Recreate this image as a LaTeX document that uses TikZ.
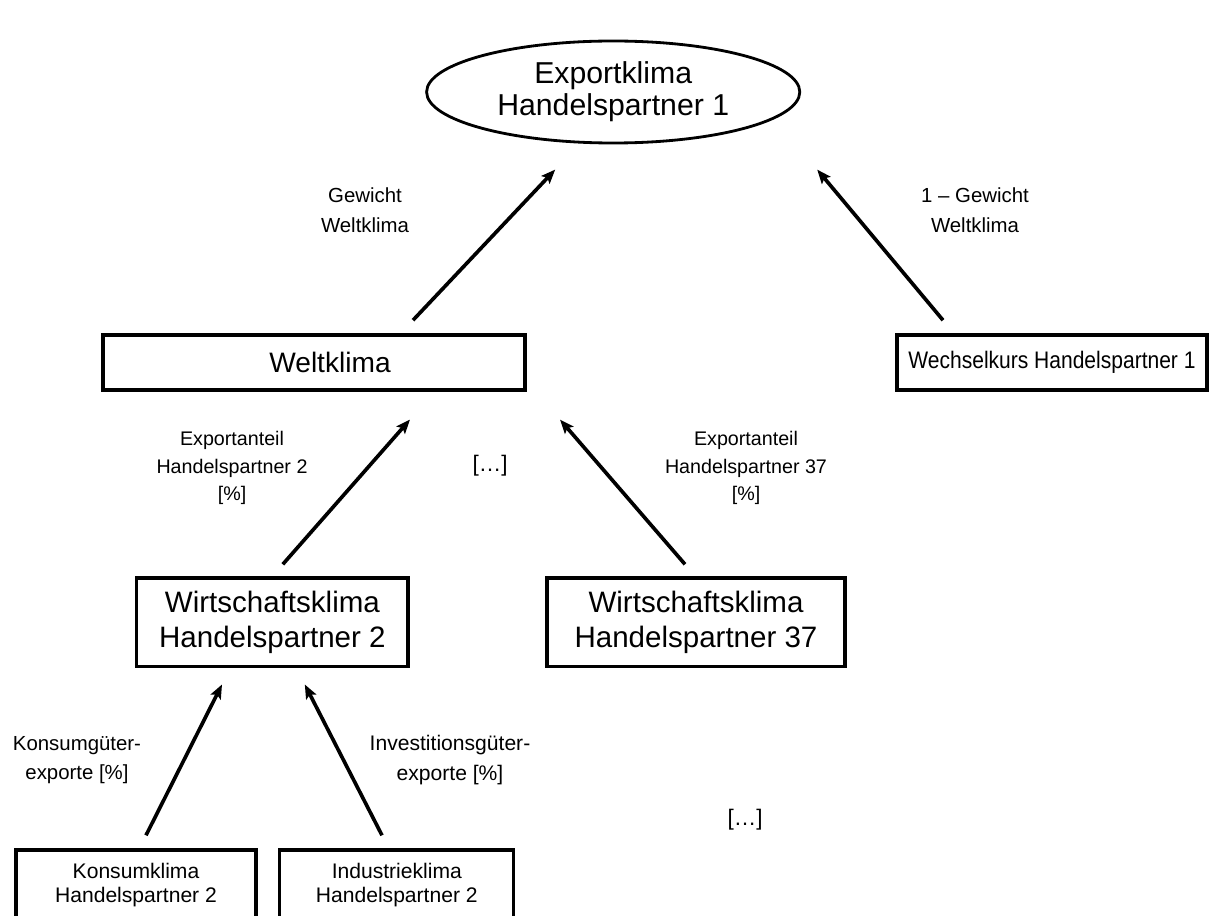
\documentclass[tikz,border=0pt]{standalone}
\usepackage{fontspec}
\setmainfont{Liberation Sans}
\newfontfamily\condfont[FakeStretch=0.88]{Liberation Sans}
\usetikzlibrary{arrows.meta, calc, positioning, shapes.geometric}

\begin{document}
\begin{tikzpicture}[
  >=Stealth,
  box/.style={draw, line width=2.4pt, rectangle, align=center, inner sep=0pt},
  oval/.style={draw, line width=2pt, ellipse, align=center, inner sep=0pt},
  lbl/.style={align=center, font=\fontsize{14.5}{21}\selectfont},
  arrowW/.style={line width=2.6pt, arrows={-Stealth[length=10pt, width=8pt, inset=2pt]}}
]
\useasboundingbox (0,0) rectangle (30.325,-22.9);

% Top: export climate
\node[oval, minimum width=9.33cm, minimum height=2.55cm, font=\fontsize{21.5}{23}\selectfont]
  (export) at (15.33,-2.3) {Exportklima\\Handelspartner 1};

% Second level
\node[box, minimum width=10.55cm, minimum height=1.375cm, font=\fontsize{20}{24}\selectfont]
  (welt) at (7.85,-9.06) {\hspace*{0.8cm}Weltklima};
\node[box, minimum width=7.75cm, minimum height=1.375cm, font=\condfont\fontsize{17}{20}\selectfont]
  (wechsel) at (26.3,-9.06) {Wechselkurs Handelspartner 1};

% Third level: trading partners
\node[box, minimum width=6.78cm, minimum height=2.22cm, font=\fontsize{21}{25}\selectfont]
  (wirt2) at (6.81,-15.56) {Wirtschaftsklima\\Handelspartner 2};
\node[box, minimum width=7.45cm, minimum height=2.22cm, font=\fontsize{21}{25}\selectfont]
  (wirt37) at (17.4,-15.56) {Wirtschaftsklima\\Handelspartner 37};

% Bottom level (cut off at the lower edge)
\node[box, minimum width=6.0cm, minimum height=1.75cm, font=\fontsize{15}{17}\selectfont]
  (konsum) at (3.4,-22.125) {Konsumklima\\Handelspartner 2};
\node[box, minimum width=5.85cm, minimum height=1.75cm, font=\fontsize{15}{17}\selectfont]
  (industrie) at (9.92,-22.125) {Industrieklima\\Handelspartner 2};

% Arrows upwards
\draw[arrowW] ([xshift=2.475cm, yshift=0.325cm]welt.north) -- ([xshift=-1.45cm, yshift=-0.63cm]export.south);
\draw[arrowW] ([xshift=-2.725cm, yshift=0.325cm]wechsel.north) -- ([xshift=5.1cm, yshift=-0.63cm]export.south);
\draw[arrowW] ([xshift=0.26cm, yshift=0.3cm]wirt2.north) -- ([xshift=2.4cm, yshift=-0.7cm]welt.south);
\draw[arrowW] ([xshift=-0.275cm, yshift=0.3cm]wirt37.north) -- ([xshift=6.15cm, yshift=-0.7cm]welt.south);
\draw[arrowW] ([xshift=0.25cm, yshift=0.325cm]konsum.north) -- ([xshift=-1.26cm, yshift=-0.4cm]wirt2.south);
\draw[arrowW] ([xshift=-0.37cm, yshift=0.325cm]industrie.north) -- ([xshift=0.81cm, yshift=-0.4cm]wirt2.south);

% Weights
\node[lbl] (wGewicht) at (9.125,-5.25) {Gewicht\\Weltklima};
\node[lbl] (wRest) at (24.375,-5.25) {1 – Gewicht\\Weltklima};
\node[lbl, font=\fontsize{14}{19.5}\selectfont] (wAnteil2) at (5.8,-11.7) {Exportanteil\\Handelspartner 2\\{[\%]}};
\node[lbl, font=\fontsize{16}{21}\selectfont] (dotsA) at (12.25,-11.65) {[…]};
\node[lbl, font=\fontsize{14}{19.5}\selectfont] (wAnteil37) at (18.65,-11.7) {Exportanteil\\Handelspartner 37\\{[\%]}};
\node[lbl] (wKonsum) at (1.925,-19.0) {Konsumgüter-\\exporte [\%]};
\node[lbl, font=\fontsize{15}{21}\selectfont] (wInvest) at (11.25,-19.0) {Investitionsgüter-\\exporte [\%]};
\node[lbl, font=\fontsize{16}{21}\selectfont] (dotsB) at (18.625,-20.5) {[…]};

\end{tikzpicture}
\end{document}
